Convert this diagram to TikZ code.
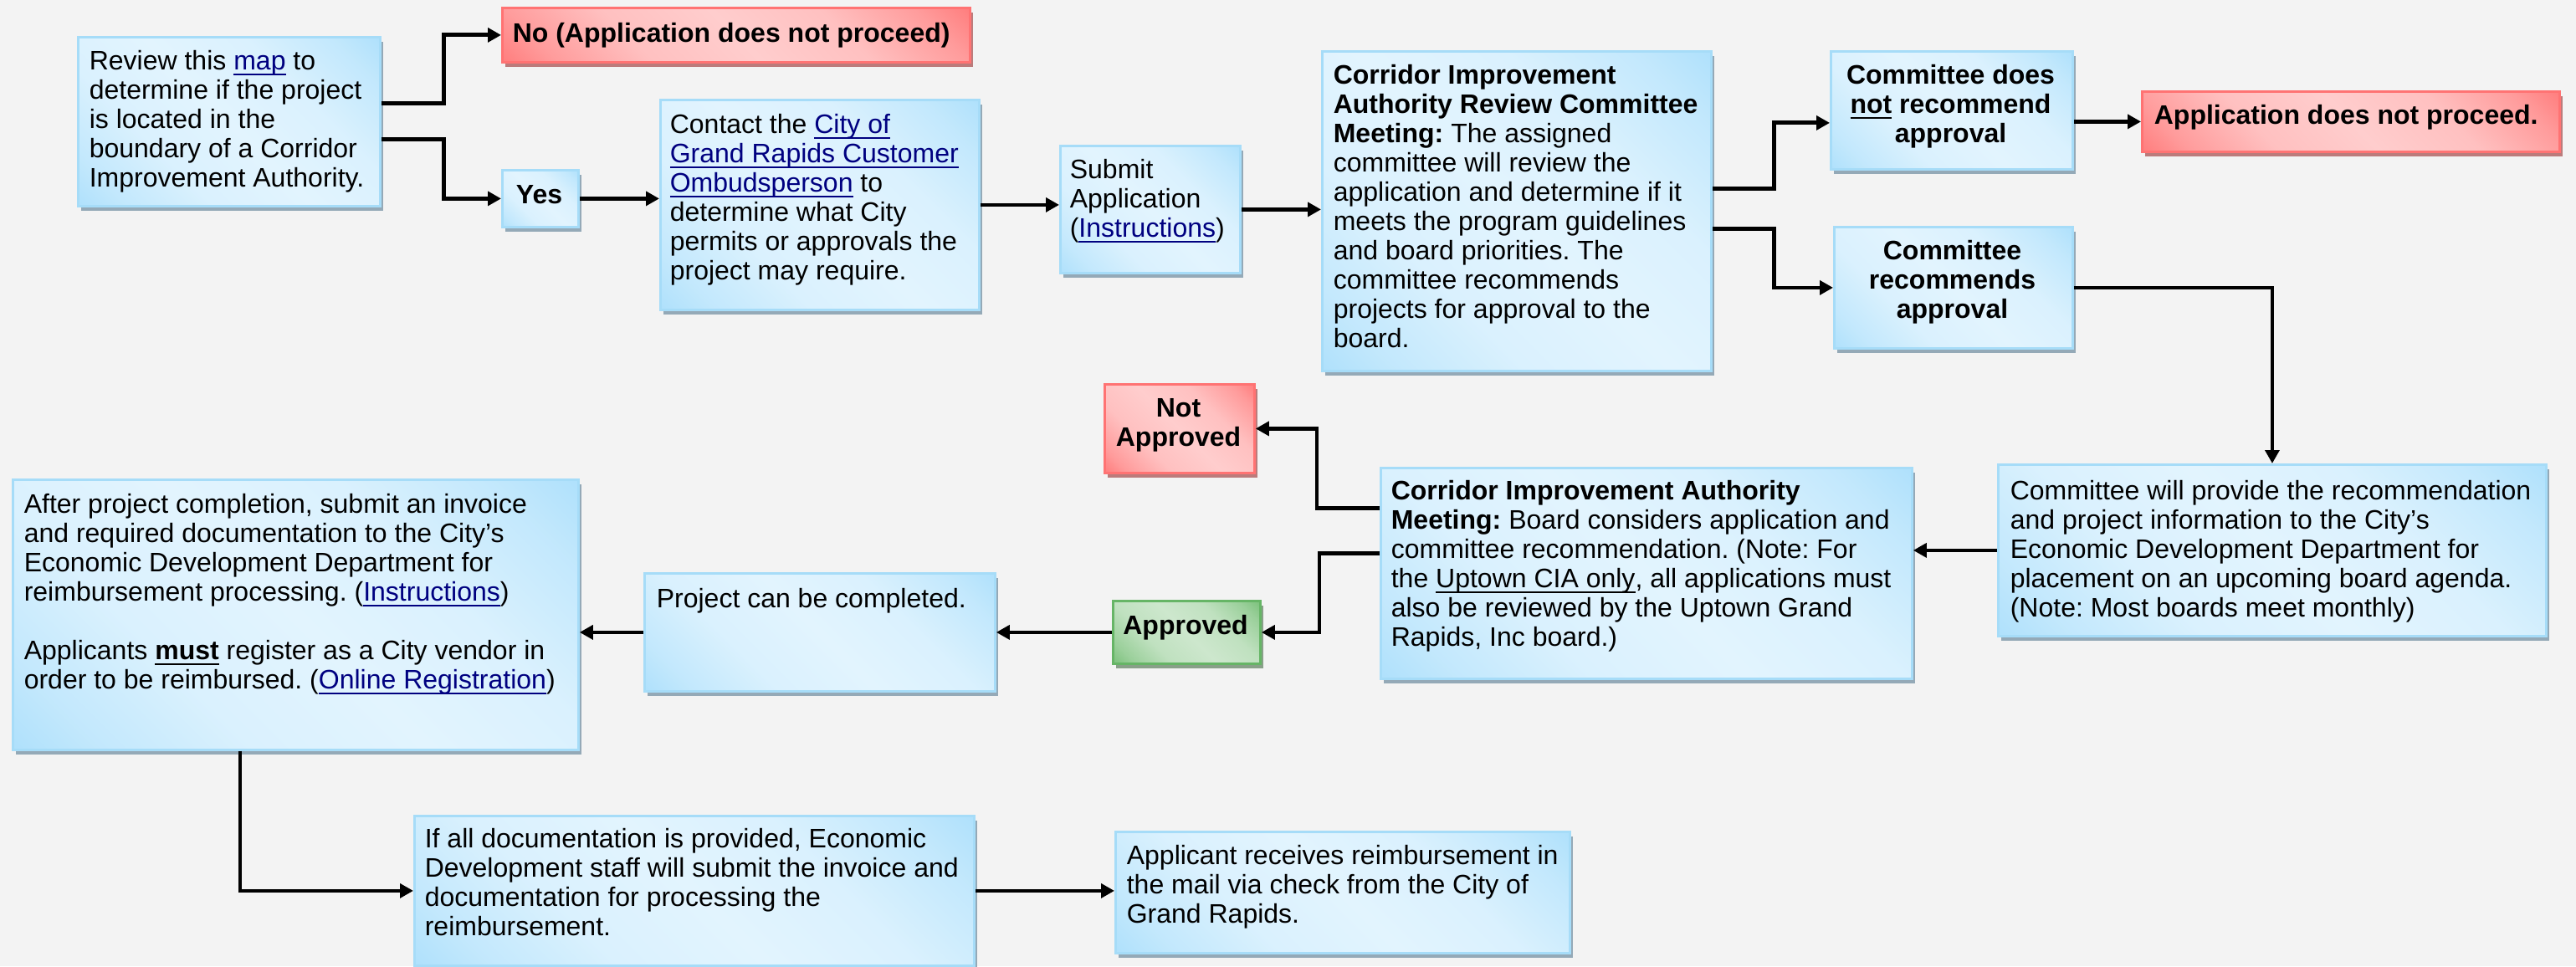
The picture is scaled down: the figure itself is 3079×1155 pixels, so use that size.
\documentclass[tikz,border=0pt]{standalone}
\usepackage{fontspec}
\setmainfont{Liberation Sans}
\usetikzlibrary{arrows.meta,shadows,calc}
\definecolor{bgc}{HTML}{F3F3F3}
\definecolor{bdark}{HTML}{A3DCFB}
\definecolor{blight}{HTML}{E2F4FE}
\definecolor{bborder}{HTML}{A6DCF8}
\definecolor{bshadow}{HTML}{94A9B7}
\definecolor{rdark}{HTML}{FF6B6B}
\definecolor{rlight}{HTML}{FFCDCD}
\definecolor{rborder}{HTML}{FF7373}
\definecolor{rshadow}{HTML}{BB7B7B}
\definecolor{gdark}{HTML}{68B868}
\definecolor{glight}{HTML}{CDE7CD}
\definecolor{gborder}{HTML}{66B566}
\definecolor{gshadow}{HTML}{88A088}
\definecolor{linkc}{HTML}{000080}
\colorlet{bmidA}{blight!50!bdark}\colorlet{bmidB}{blight!87!bdark}
\colorlet{rmidA}{rlight!50!rdark}\colorlet{rmidB}{rlight!87!rdark}
\colorlet{gmidA}{glight!50!gdark}\colorlet{gmidB}{glight!87!gdark}
\pgfdeclareverticalshading{bluesh}{100bp}{color(0bp)=(bdark); color(10bp)=(bdark); color(22bp)=(bmidA); color(35bp)=(bmidB); color(50bp)=(blight); color(65bp)=(bmidB); color(78bp)=(bmidA); color(90bp)=(bdark); color(100bp)=(bdark)}
\pgfdeclareverticalshading{redsh}{100bp}{color(0bp)=(rdark); color(10bp)=(rdark); color(22bp)=(rmidA); color(35bp)=(rmidB); color(50bp)=(rlight); color(65bp)=(rmidB); color(78bp)=(rmidA); color(90bp)=(rdark); color(100bp)=(rdark)}
\pgfdeclareverticalshading{greensh}{100bp}{color(0bp)=(gdark); color(10bp)=(gdark); color(22bp)=(gmidA); color(35bp)=(gmidB); color(50bp)=(glight); color(65bp)=(gmidB); color(78bp)=(gmidA); color(90bp)=(gdark); color(100bp)=(gdark)}
\newsavebox\ulbox
\newcommand\ulx[1]{\leavevmode\sbox\ulbox{#1}\rlap{\rule[-1.6pt]{\wd\ulbox}{0.65pt}}\usebox\ulbox}
\newcommand\lnk[1]{\textcolor{linkc}{\ulx{#1}}}
\frenchspacing
\begin{document}
\begin{tikzpicture}[x=0.25pt,y=-0.25pt,
  boxbase/.style={inner sep=0pt, anchor=north west, line width=0.7pt},
  bluebox/.style={boxbase, draw=bborder, shade, shading=bluesh, shading angle=-45,
    drop shadow={shadow xshift=0.9pt, shadow yshift=-1.5pt, fill=bshadow, opacity=1}},
  redbox/.style={boxbase, draw=rborder, shade, shading=redsh, shading angle=-45,
    drop shadow={shadow xshift=0.9pt, shadow yshift=-1.5pt, fill=rshadow, opacity=1}},
  greenbox/.style={boxbase, draw=gborder, shade, shading=greensh, shading angle=-45,
    drop shadow={shadow xshift=0.9pt, shadow yshift=-1.5pt, fill=gshadow, opacity=1}},
  txt/.style={inner sep=0pt, anchor=north west, align=left, font=\fontsize{8pt}{8.75pt}\selectfont},
  btxt/.style={txt, font=\fontsize{8pt}{8.75pt}\selectfont\bfseries},
  ctxt/.style={inner sep=0pt, anchor=north, align=center, font=\fontsize{8pt}{8.75pt}\selectfont\bfseries},
  arr/.style={line width=1.2pt, -{Triangle[length=4pt,width=4.2pt]}}
]
\useasboundingbox (0,0) rectangle (3079,1155);
\fill[bgc] (0,0) rectangle (3079,1155);

% boxes
\node[bluebox, minimum width=90.25pt, minimum height=50.5pt] (review) at (92,43) {};
\node[redbox, minimum width=139.75pt, minimum height=16.25pt] (no) at (599,8) {};
\node[bluebox, minimum width=22.75pt, minimum height=17pt] (yes) at (599,202) {};
\node[bluebox, minimum width=95.25pt, minimum height=62.75pt] (contact) at (788,118) {};
\node[bluebox, minimum width=53.75pt, minimum height=38pt] (submit) at (1266,173) {};
\node[bluebox, minimum width=116.25pt, minimum height=95.5pt] (ciarc) at (1579,60) {};
\node[bluebox, minimum width=72.25pt, minimum height=35.25pt] (notrec) at (2187,60) {};
\node[redbox, minimum width=124.75pt, minimum height=18pt] (appno) at (2559,108) {};
\node[bluebox, minimum width=71.25pt, minimum height=36.25pt] (rec) at (2191,270) {};
\node[bluebox, minimum width=163.75pt, minimum height=51.25pt] (provide) at (2387,554) {};
\node[bluebox, minimum width=158.75pt, minimum height=63pt] (cia) at (1649,558) {};
\node[redbox, minimum width=44.75pt, minimum height=26.5pt] (notapp) at (1319,458) {};
\node[greenbox, minimum width=44pt, minimum height=18.75pt] (approved) at (1329,717) {};
\node[bluebox, minimum width=169pt, minimum height=80.75pt] (after) at (14,572) {};
\node[bluebox, minimum width=104.75pt, minimum height=35.25pt] (project) at (769,684) {};
\node[bluebox, minimum width=167.25pt, minimum height=44.75pt] (ifall) at (494,974) {};
\node[bluebox, minimum width=135.75pt, minimum height=36.25pt] (applicant) at (1332,993) {};

% texts
\node[txt] (treview) at (106,58.5) {\strut Review this \lnk{map} to\\determine if the project\\is located in the\\boundary of a Corridor\\Improvement Authority.};
\node[btxt] (tno) at (612,25.5) {\strut No (Application does not proceed)};
\node[ctxt] (tyes) at (644.5,218.5) {\strut Yes};
\node[txt] (tcontact) at (800,134.5) {\strut Contact the \lnk{City of}\\\lnk{Grand Rapids Customer}\\\lnk{Ombudsperson} to\\determine what City\\permits or approvals the\\project may require.};
\node[txt] (tsubmit) at (1278,188.5) {\strut Submit\\Application\\(\lnk{Instructions})};
\node[txt] (tciarc) at (1593,75.5) {\strut\textbf{Corridor Improvement}\\\textbf{Authority Review Committee}\\\textbf{Meeting:} The assigned\\committee will review the\\application and determine if it\\meets the program guidelines\\and board priorities. The\\committee recommends\\projects for approval to the\\board.};
\node[ctxt] (tnotrec) at (2331.5,75.5) {\strut Committee does\\\ulx{not} recommend\\approval};
\node[btxt] (tappno) at (2574,123.5) {\strut Application does not proceed.};
\node[ctxt] (trec) at (2333.5,285.5) {\strut Committee\\recommends\\approval};
\node[txt] (tprovide) at (2402,572.5) {\strut Committee will provide the recommendation\\and project information to the City’s\\Economic Development Department for\\placement on an upcoming board agenda.\\(Note: Most boards meet monthly)};
\node[txt] (tcia) at (1662,572.5) {\strut\textbf{Corridor Improvement Authority}\\\textbf{Meeting:} Board considers application and\\committee recommendation. (Note: For\\the \ulx{Uptown CIA only}, all applications must\\also be reviewed by the Uptown Grand\\Rapids, Inc board.)};
\node[ctxt] (tnotapp) at (1408.5,473.5) {\strut Not\\Approved};
\node[ctxt] (tapproved) at (1417,733.5) {\strut Approved};
\node[txt] (tafter) at (28,588.5) {\strut After project completion, submit an invoice\\and required documentation to the City’s\\Economic Development Department for\\reimbursement processing. (\lnk{Instructions})\\[8.75pt]Applicants \textbf{\ulx{must}} register as a City vendor in\\order to be reimbursed. (\lnk{Online Registration})};
\node[txt] (tproject) at (784,701.5) {\strut Project can be completed.};
\node[txt] (tifall) at (507,988.5) {\strut If all documentation is provided, Economic\\Development staff will submit the invoice and\\documentation for processing the\\reimbursement.};
\node[txt] (tapplicant) at (1346,1008.5) {\strut Applicant receives reimbursement in\\the mail via check from the City of\\Grand Rapids.};

% connectors
\draw[arr] ($(review.east)+(0,-22)$) -- ++(75,0) |- (no.west);
\draw[arr] ($(review.east)+(0,21)$) -- ++(75,0) |- (yes.west);
\draw[arr] (yes.east) -- (yes.east -| contact.west);
\draw[arr] (contact.east) -- (contact.east -| submit.west);
\draw[arr] (submit.east) -- (submit.east -| ciarc.west);
\draw[arr] ($(ciarc.east)+(0,-27)$) -- ++(74,0) |- ($(notrec.west)+(0,15)$);
\draw[arr] ($(ciarc.east)+(0,21)$) -- ++(74,0) |- (rec.west);
\draw[arr] (notrec.east |- appno.west) -- (appno.west);
\draw[arr] (rec.east) -| (provide.north);
\draw[arr] (provide.west) -- (provide.west -| cia.east);
\draw[arr] ($(cia.west)+(0,-78)$) -- ++(-75,0) |- (notapp.east);
\draw[arr] ($(cia.west)+(0,-24)$) -- ++(-72,0) |- (approved.east);
\draw[arr] (approved.west) -- (approved.west -| project.east);
\draw[arr] (project.west) -- (project.west -| after.east);
\draw[arr] ($(after.south west)+(273,0)$) |- (ifall.west);
\draw[arr] (ifall.east) -- (ifall.east -| applicant.west);
\end{tikzpicture}
\end{document}
